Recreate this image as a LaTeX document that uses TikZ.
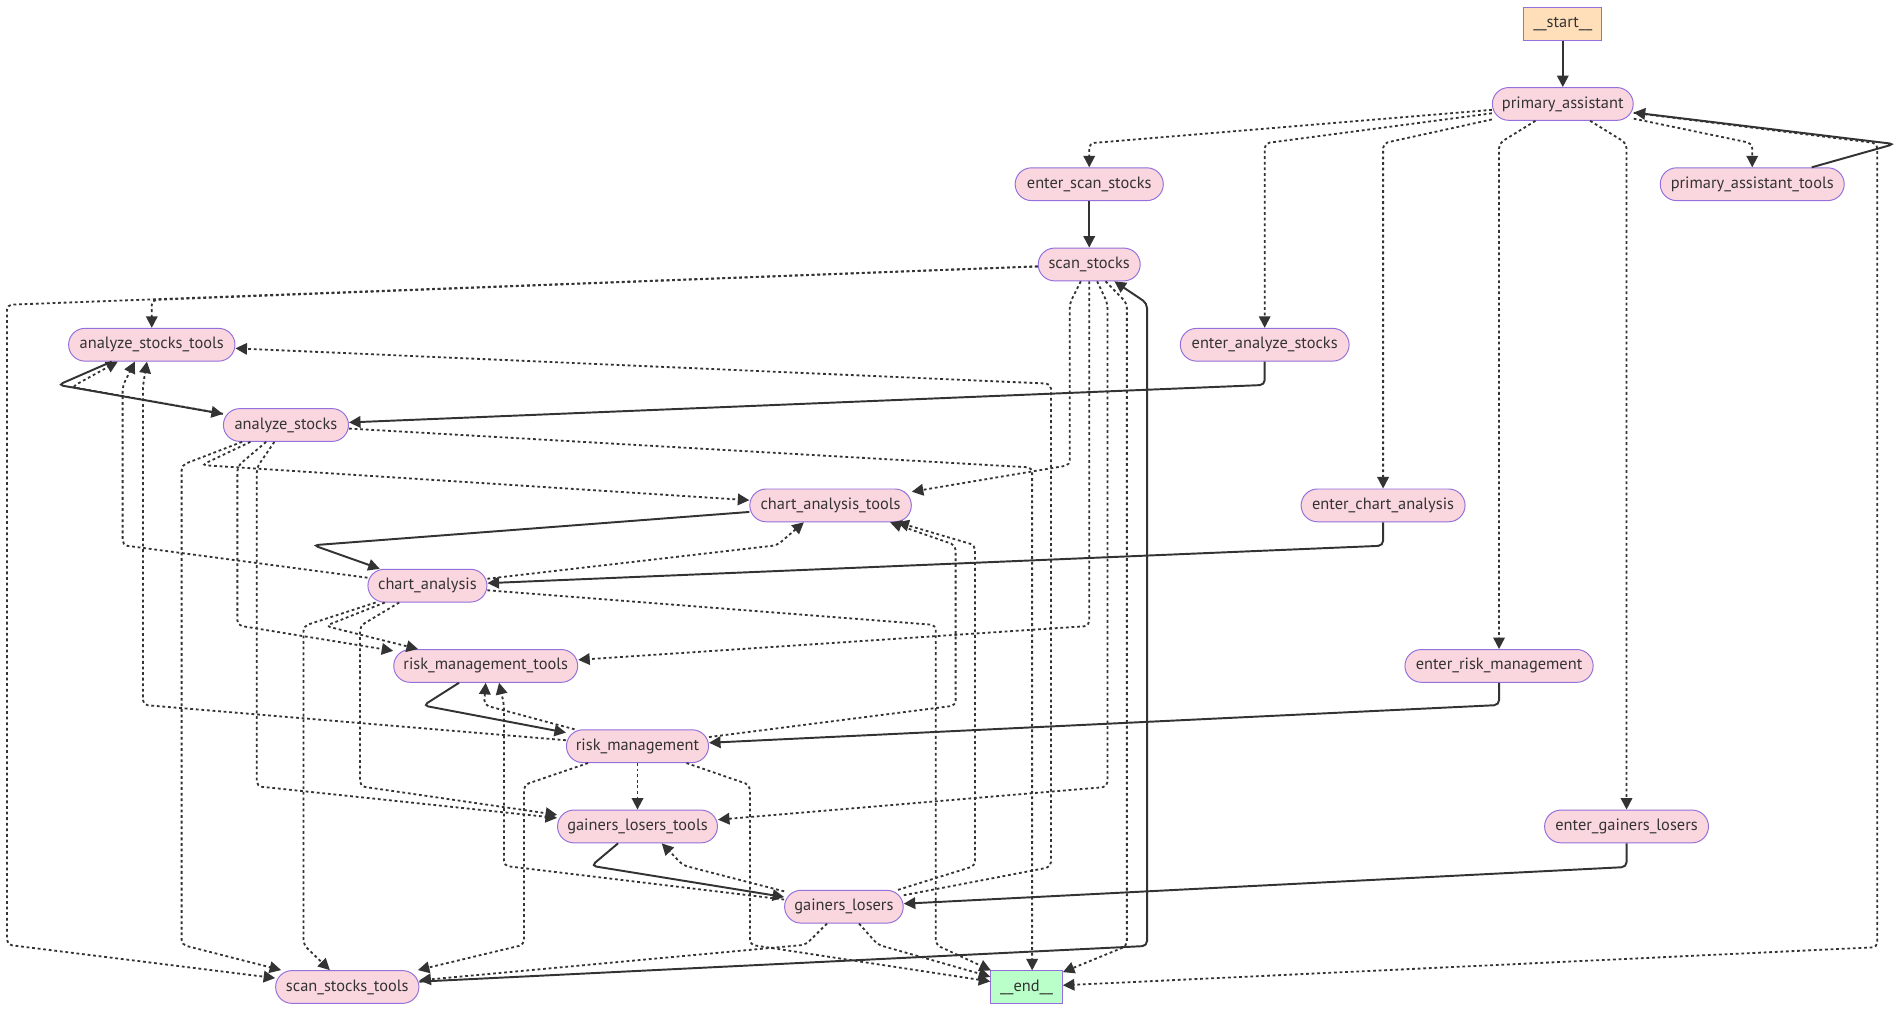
\documentclass[tikz,border=0pt]{standalone}
\usepackage{fontspec}
\setmainfont{PT Sans}
\usetikzlibrary{arrows.meta,calc}
\definecolor{ndfill}{HTML}{FAD7DE}
\definecolor{ndborder}{HTML}{9370DB}
\definecolor{startfill}{HTML}{FFDFBA}
\definecolor{endfill}{HTML}{BAFFC9}
\definecolor{lc}{HTML}{333333}
\begin{document}
\begin{tikzpicture}[x=1pt,y=-1pt,
  nd/.style={draw=ndborder, fill=ndfill, line width=0.8pt, rounded corners=13.5pt,
    minimum height=27pt, inner sep=0pt, text=lc, font=\fontsize{13.5}{15}\selectfont},
  sq/.style={draw=ndborder, line width=0.8pt, minimum height=27pt, inner sep=0pt,
    text=lc, font=\fontsize{13.5}{15}\selectfont},
  se/.style={draw=lc, line width=1.6pt, rounded corners=4pt, -{Triangle[length=9.5pt,width=9.5pt]}},
  de/.style={draw=lc, line width=1.5pt, dash pattern=on 2.3pt off 2.3pt, rounded corners=4pt,
    -{Triangle[length=9.5pt,width=9.5pt]}}]
\fill[white] (0,0) rectangle (1568,832.6);
\useasboundingbox (0,0) rectangle (1568,832.6);

% nodes
\node[sq, fill=startfill, minimum width=64pt] (start) at (1287,19.5) {\_\_start\_\_};
\node[nd, minimum width=116pt] (PA) at (1287,85.6) {primary\_assistant};
\node[nd, minimum width=151.5pt] (PAT) at (1443,151.7) {primary\_assistant\_tools};
\node[nd, minimum width=122pt] (ESS) at (897,151.7) {enter\_scan\_stocks};
\node[nd, minimum width=84pt] (SS) at (897,217.8) {scan\_stocks};
\node[nd, minimum width=139pt] (EAS) at (1041.5,283.9) {enter\_analyze\_stocks};
\node[nd, minimum width=137pt] (AST) at (125,283.9) {analyze\_stocks\_tools};
\node[nd, minimum width=103pt] (AS) at (235.5,350) {analyze\_stocks};
\node[nd, minimum width=133pt] (CAT) at (684,416.2) {chart\_analysis\_tools};
\node[nd, minimum width=135pt] (ECA) at (1139,416.2) {enter\_chart\_analysis};
\node[nd, minimum width=98pt] (CA) at (352,482.3) {chart\_analysis};
\node[nd, minimum width=151.5pt] (RMT) at (400,548.4) {risk\_management\_tools};
\node[nd, minimum width=155pt] (ERM) at (1234.5,548.4) {enter\_risk\_management};
\node[nd, minimum width=117pt] (RM) at (525,614.5) {risk\_management};
\node[nd, minimum width=131.7pt] (GLT) at (525,680.6) {gainers\_losers\_tools};
\node[nd, minimum width=135pt] (EGL) at (1339.5,680.6) {enter\_gainers\_losers};
\node[nd, minimum width=97.7pt] (GL) at (695,746.7) {gainers\_losers};
\node[nd, minimum width=118pt] (SST) at (286,812.8) {scan\_stocks\_tools};
\node[sq, fill=endfill, minimum width=59pt, minimum height=26.5pt] (END) at (845.4,812.8) {\_\_end\_\_};

% solid edges
\draw[se] (start) -- (PA);
\draw[se] ($(PAT.north)+(49,0)$) -- (1560,118.6) -- (PA);
\draw[se] (ESS) -- (SS);
\draw[se] (EAS) -- (1041.5,317) -- (AS);
\draw[se] (ECA) -- (1139,449.4) -- (CA);
\draw[se] (ERM) -- (1234.5,580.6) -- (RM);
\draw[se] (EGL) -- (1339.5,714) -- (GL);
\draw[se] ($(AST.south)+(-33,0)$) -- (48,317) -- (AS);
\draw[se] ($(CAT.west)+(0,5.4)$) -- (258,449) -- (CA);
\draw[se] ($(RMT.south)+(-22,0)$) -- (348.6,581) -- (RM);
\draw[se] ($(GLT.south)+(-16,0)$) -- (487,713) -- (GL);
\draw[se] ($(SST.east)+(0,-4.4)$) -- (944.6,779) -- (944.6,249.7) -- (SS);

% primary_assistant conditional edges
\draw[de] (PA) -- (897,118) -- (ESS);
\draw[de] (PA) -- (1041.5,118) -- (EAS);
\draw[de] (PA) -- (1139,118) -- (ECA);
\draw[de] (PA) -- (1234.5,118) -- (ERM);
\draw[de] (PA) -- (1339.5,118) -- (EGL);
\draw[de] (PA) -- (1443,118) -- (PAT);
\draw[de] (PA) -- (1546,118) -- (1546,780) -- (END);

% scan_stocks
\draw[de] (SS) -- (125,247) -- (AST);
\draw[de] (SS) -- (5.8,251) -- (5.8,778) -- (SST);
\draw[de] (SS) -- (881,249.7) -- (881,383) -- (CAT);
\draw[de] (SS) -- (897,515.5) -- (RMT);
\draw[de] (SS) -- (912,249.7) -- (912,648) -- (GLT);
\draw[de] (SS) -- (928,249.7) -- (928,779) -- (END);

% analyze_stocks
\draw[de] (AS) -- (59,318.7) -- ($(AST.south)+(-28,0)$);
\draw[de] (AS) -- (149.6,383) -- (149.6,778) -- (SST);
\draw[de] (AS) -- (166,383) -- (CAT);
\draw[de] (AS) -- (195.5,384) -- (195.5,515) -- (RMT);
\draw[de] (AS) -- (211.5,385) -- (211.5,647.5) -- (GLT);
\draw[de] (AS) -- (850,385) -- ($(END.north)+(4.6,0)$);

% chart_analysis
\draw[de] (CA) -- (101,449) -- (101,318) -- ($(AST.south)+(-14,0)$);
\draw[de] (CA) -- (640,449) -- ($(CAT.south)+(-22,0)$);
\draw[de] (CA) -- (250,515.5) -- (250,778) -- (SST);
\draw[de] (CA) -- (268,515.5) -- (RMT);
\draw[de] (CA) -- (296.5,515.5) -- (296.5,647.5) -- (GLT);
\draw[de] (CA) -- (770.6,514.7) -- (770.6,778) -- (END);

% risk_management
\draw[de] (RM) -- (398.6,580.6) -- (RMT.south);
\draw[de] (RM) -- (117.7,580.5) -- (117.7,318) -- ($(AST.south)+(-4,0)$);
\draw[de] (RM) -- (787,581) -- (787,449) -- ($(CAT.south)+(49,0)$);
\draw[de] (RM) -- (GLT);
\draw[de] (RM) -- (431.5,646.4) -- (431.5,778) -- (SST);
\draw[de] (RM) -- (617.6,646.4) -- (617.6,778) -- (END);

% gainers_losers
\draw[de] (GL) -- (562.5,712.6) -- ($(GLT.south)+(20,0)$);
\draw[de] (GL) -- (865.5,714) -- (865.5,316) -- (AST);
\draw[de] (GL) -- (803,713) -- (803,449) -- ($(CAT.south)+(55,0)$);
\draw[de] (GL) -- (415,713) -- (415,580) -- ($(RMT.south)+(11,0)$);
\draw[de] (GL) -- (663.5,778) -- (SST);
\draw[de] (GL) -- (723,778) -- (END);
\end{tikzpicture}
\end{document}
